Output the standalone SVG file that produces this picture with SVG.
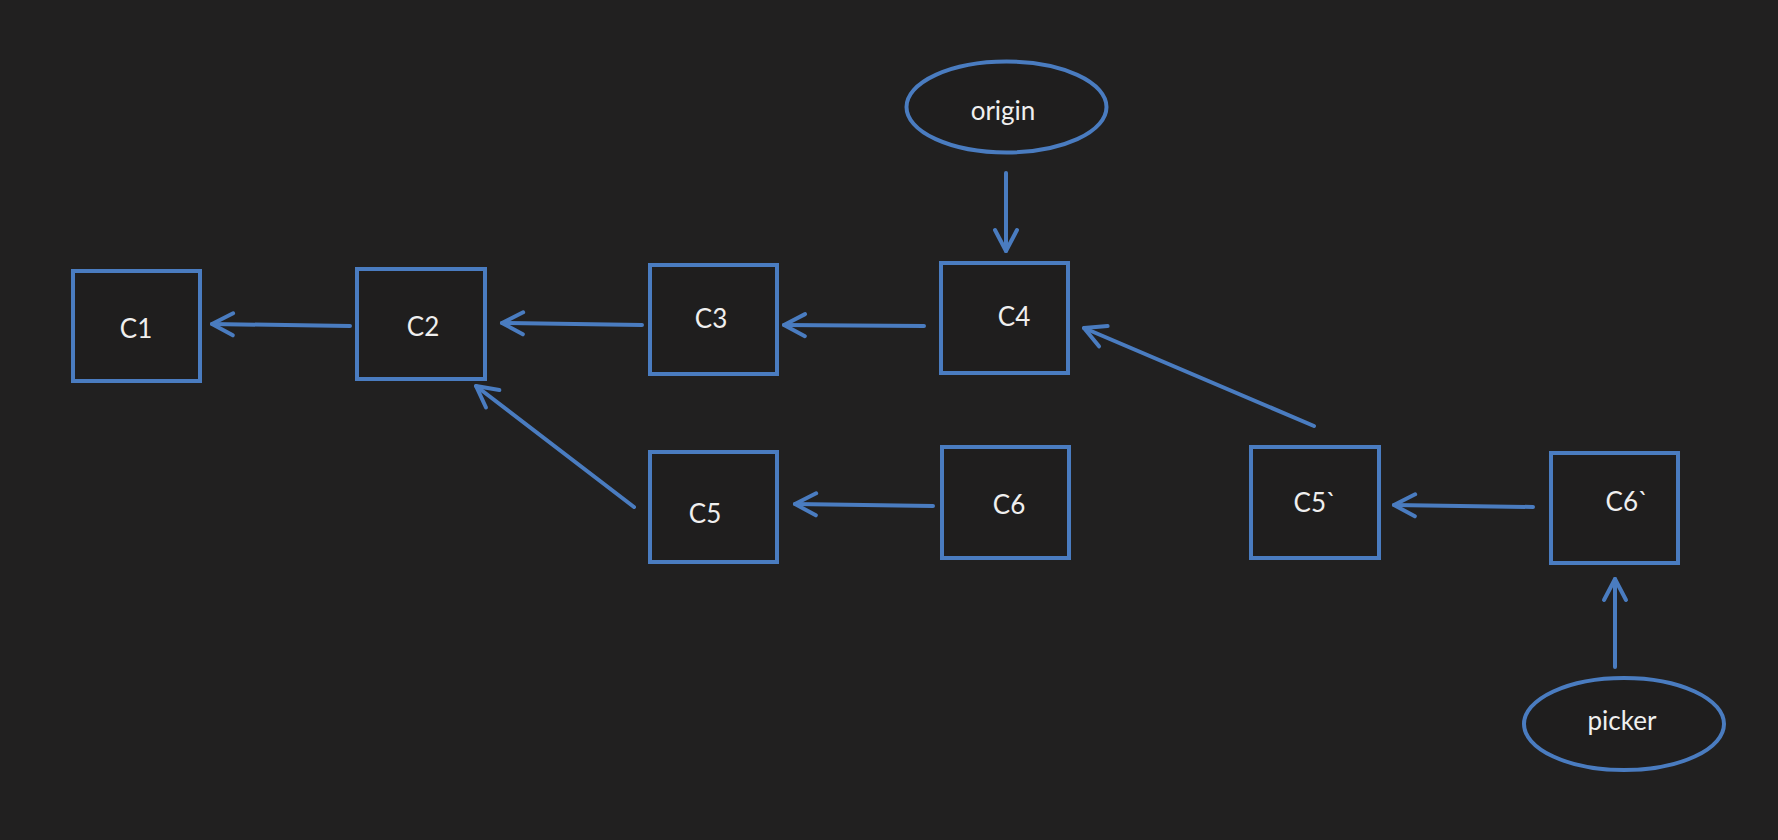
<svg xmlns="http://www.w3.org/2000/svg" width="1778" height="840" viewBox="0 0 1778 840">
<defs>
<style>
.box{fill:#1f1e1e;stroke:#4a7cc0;stroke-width:4}
.lbl{font-family:Lato,"Open Sans","Liberation Sans",sans-serif;font-size:26px;fill:#efefef;text-anchor:middle}
.edge{stroke:#4a7cc0;stroke-width:4;fill:none;stroke-linecap:round;marker-end:url(#ah)}
</style>
<marker id="ah" markerUnits="userSpaceOnUse" viewBox="-26 -16 30 32" refX="0" refY="0" markerWidth="30" markerHeight="32" orient="auto">
<path d="M-21,-11 L0,0 L-21,11" fill="none" stroke="#4a7cc0" stroke-width="4" stroke-linecap="round" stroke-linejoin="round"/>
</marker>
</defs>
<rect width="1778" height="840" fill="#212020"/>
<g id="connectors">
<line class="edge" x1="350" y1="326" x2="212" y2="324"/>
<line class="edge" x1="642" y1="325" x2="502" y2="323"/>
<line class="edge" x1="924" y1="326" x2="784" y2="325"/>
<line class="edge" x1="1006" y1="173" x2="1006" y2="251"/>
<line class="edge" x1="634" y1="507" x2="476" y2="386"/>
<line class="edge" x1="933" y1="506" x2="795" y2="504"/>
<line class="edge" x1="1314" y1="426" x2="1084" y2="328"/>
<line class="edge" x1="1533" y1="507" x2="1394" y2="505"/>
<line class="edge" x1="1615" y1="667" x2="1615" y2="579"/>
</g>
<g id="C1"><rect class="box" x="73" y="271" width="127" height="110"/><text class="lbl" x="136" y="338">C1</text></g>
<g id="C2"><rect class="box" x="357" y="269" width="128" height="110"/><text class="lbl" x="423" y="336">C2</text></g>
<g id="C3"><rect class="box" x="650" y="265" width="127" height="109"/><text class="lbl" x="711" y="328">C3</text></g>
<g id="C4"><rect class="box" x="941" y="263" width="127" height="110"/><text class="lbl" x="1014" y="326">C4</text></g>
<g id="origin"><ellipse class="box" cx="1006.5" cy="107" rx="100" ry="45.5"/><text class="lbl" x="1003" y="120">origin</text></g>
<g id="C5"><rect class="box" x="650" y="452" width="127" height="110"/><text class="lbl" x="705" y="523">C5</text></g>
<g id="C6"><rect class="box" x="942" y="447" width="127" height="111"/><text class="lbl" x="1009" y="514">C6</text></g>
<g id="C5p"><rect class="box" x="1251" y="447" width="128" height="111"/><text class="lbl" x="1315" y="512">C5`</text></g>
<g id="C6p"><rect class="box" x="1551" y="453" width="127" height="110"/><text class="lbl" x="1627" y="511">C6`</text></g>
<g id="picker"><ellipse class="box" cx="1624" cy="724" rx="100" ry="46"/><text class="lbl" x="1622" y="730">picker</text></g>
</svg>
